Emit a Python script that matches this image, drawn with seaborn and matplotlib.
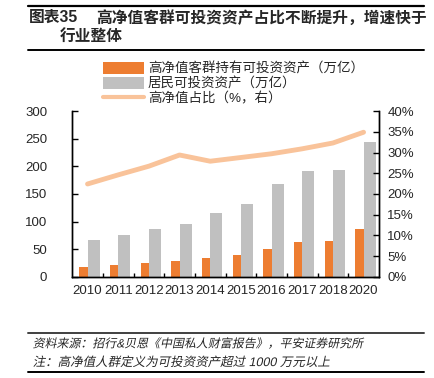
import matplotlib
matplotlib.use("Agg")
import matplotlib.pyplot as plt
from matplotlib.lines import Line2D
from matplotlib.patches import Patch
from matplotlib.patheffects import AbstractPathEffect
from matplotlib.transforms import Affine2D
from matplotlib.ticker import FuncFormatter, MultipleLocator
import seaborn as sns
import pandas as pd
import numpy as np

# data
years = ["2010", "2011", "2012", "2013", "2014", "2015", "2016", "2017", "2018", "2020"]
hnw_assets = [18, 21, 24, 29, 34, 40, 51, 62, 64, 86]           # 万亿
household_assets = [67, 75, 87, 95, 115, 132, 168, 192, 194, 244]  # 万亿
hnw_share = [0.224, 0.246, 0.267, 0.294, 0.279, 0.288, 0.297, 0.309, 0.323, 0.349]

series_names = ["高净值客群持有可投资资产（万亿）", "居民可投资资产（万亿）", "高净值占比（%，右）"]
colors = ["#ED7D31", "#C0C0C0", "#F9C39A"]


class Oblique(AbstractPathEffect):
    # CJK fonts have no italic, so slant the glyph outlines instead
    def draw_path(self, renderer, gc, tpath, affine, rgbFace=None):
        renderer.draw_path(gc, tpath, Affine2D().skew_deg(12, 0) + affine, rgbFace)


sns.set_theme(style="white")
plt.rcParams["font.family"] = ["Liberation Sans", "Noto Sans CJK SC", "DejaVu Sans"]
plt.rcParams["font.size"] = 9

df = pd.DataFrame({
    "year": years * 2,
    "value": hnw_assets + household_assets,
    "series": [series_names[0]] * len(years) + [series_names[1]] * len(years),
})

fig = plt.figure(figsize=(4.35, 3.78), dpi=100)
ax = fig.add_axes([0.166, 0.268, 0.705, 0.438])

sns.barplot(data=df, x="year", y="value", hue="series", palette=colors[:2],
            width=0.66, ax=ax, legend=False, saturation=1)

# orange bars a bit narrower than the grey ones, both touching at the centre
for bar in ax.containers[0]:
    right = bar.get_x() + bar.get_width()
    bar.set_width(0.27)
    bar.set_x(right - 0.27)
for bar in ax.containers[1]:
    bar.set_width(0.39)
for c in ax.containers:
    for bar in c:
        bar.set_linewidth(0)

ax.set_ylim(0, 300)
ax.yaxis.set_major_locator(MultipleLocator(50))
ax.set_xlabel("")
ax.set_ylabel("")

ax2 = ax.twinx()
sns.lineplot(x=np.arange(len(years)), y=hnw_share, ax=ax2, color=colors[2],
             linewidth=3.5, legend=False)
ax2.set_ylim(0, 0.4)
ax2.yaxis.set_major_locator(MultipleLocator(0.05))
ax2.yaxis.set_major_formatter(FuncFormatter(lambda v, p: f"{v * 100:.0f}%"))
ax2.set_ylabel("")
ax.set_xlim(-0.5, len(years) - 0.5)

for a in (ax, ax2):
    for side in ("left", "right", "bottom"):
        a.spines[side].set_visible(True)
        a.spines[side].set_color("black")
        a.spines[side].set_linewidth(1.0)
    a.spines["top"].set_visible(False)
    a.grid(False)

ax.tick_params(axis="y", direction="in", length=4, width=1, color="black",
               labelsize=9.5, pad=18, left=True)
ax2.tick_params(axis="y", direction="in", length=4, width=1, color="black",
                labelsize=9.5, pad=6, right=True)
ax.set_xticks(np.arange(len(years)))
ax.set_xticklabels(years)
ax.set_xticks(np.arange(len(years) - 1) + 0.5, minor=True)
ax.tick_params(axis="x", which="major", length=0, labelsize=9.5, pad=6)
ax.tick_params(axis="x", which="minor", direction="in", length=3, width=1,
               color="black", bottom=True)

# legend
handles = [Patch(fc=colors[0], ec="none"), Patch(fc=colors[1], ec="none"),
           Line2D([], [], color=colors[2], linewidth=3)]
fig.legend(handles, series_names, loc="upper left", bbox_to_anchor=(0.225, 0.85),
           frameon=False, fontsize=9.7, handlelength=3.0, handleheight=1.0,
           labelspacing=0.1, handletextpad=0.3, borderaxespad=0)

# title block
fig.add_artist(Line2D([0.065, 0.975], [0.984, 0.984], color="black", lw=1.6))
fig.text(0.067, 0.953, "图表35", fontsize=11.3, fontweight="bold", va="center")
fig.text(0.222, 0.953, "高净值客群可投资资产占比不断提升，增速快于",
         fontsize=11.3, fontweight="bold", va="center")
fig.text(0.137, 0.903, "行业整体", fontsize=11.3, fontweight="bold", va="center")
fig.add_artist(Line2D([0.065, 0.975], [0.868, 0.868], color="black", lw=1.4))

# footer
fig.add_artist(Line2D([0.065, 0.975], [0.119, 0.119], color="#404040", lw=1.4))
fig.text(0.075, 0.089, "资料来源：招行&贝恩《中国私人财富报告》，平安证券研究所",
         fontsize=8.6, va="center", path_effects=[Oblique()])
fig.text(0.075, 0.040, "注：高净值人群定义为可投资资产超过 1000 万元以上",
         fontsize=9, va="center", path_effects=[Oblique()])
fig.add_artist(Line2D([0.065, 0.975], [0.016, 0.016], color="black", lw=1.4))

fig.savefig("out.png", dpi=100)
